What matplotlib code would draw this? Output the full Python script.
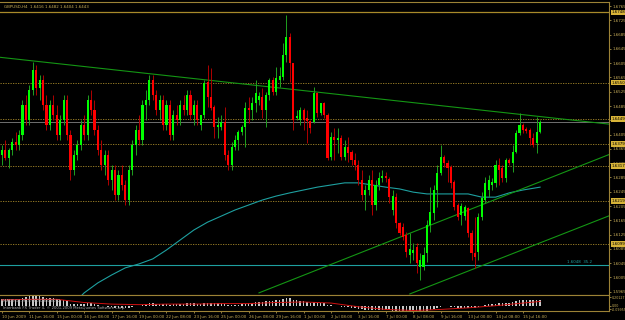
import numpy as np
import matplotlib
matplotlib.use("Agg")
import matplotlib.pyplot as plt
from matplotlib.transforms import blended_transform_factory

# ---------------- data ----------------
header = "GBPUSD,H4  1.6416 1.6482 1.6404 1.6443"

# prices in pips (x 1e-4)
open_p = [16348,16362,16340,16362,16384,16376,16404,16488,16446,16530,16586,16536,16558,16488,16432,16488,16460,16404,16446,16502,
          16404,16306,16348,16376,16432,16404,16502,16474,16418,16362,16320,16348,16278,16306,16236,16292,16264,16222,16306,16376,
          16418,16390,16488,16502,16558,16516,16474,16502,16432,16488,16404,16460,16446,16488,16474,16516,16460,16488,16432,16460,
          16552,16510,16482,16426,16426,16440,16348,16320,16370,16390,16412,16426,16480,16474,16494,16502,16510,16474,16516,16558,
          16524,16558,16566,16628,16678,16606,16452,16446,16474,16452,16443,16440,16522,16466,16494,16460,16342,16398,16390,16396,
          16342,16370,16356,16334,16320,16278,16236,16250,16278,16208,16264,16284,16289,16281,16194,16230,16158,16146,16124,16068,
          16074,16090,16034,16034,16074,16152,16186,16250,16298,16342,16326,16314,16272,16208,16180,16177,16200,16130,16074,16076,
          16174,16222,16250,16264,16270,16320,16312,16284,16334,16326,16356,16410,16432,16421,16418,16396,16382,16412]
high_p = [16376,16390,16368,16396,16412,16418,16502,16516,16544,16608,16600,16572,16572,16516,16502,16516,16488,16460,16516,16516,
          16418,16362,16390,16446,16460,16516,16530,16502,16432,16390,16362,16362,16320,16320,16306,16320,16278,16320,16390,16432,
          16460,16502,16530,16572,16572,16530,16516,16516,16502,16502,16474,16488,16502,16516,16530,16530,16502,16502,16460,16558,
          16600,16592,16488,16454,16460,16482,16362,16384,16404,16418,16432,16496,16510,16510,16558,16524,16536,16524,16564,16566,
          16594,16594,16662,16740,16690,16606,16474,16482,16480,16474,16446,16538,16524,16494,16496,16466,16412,16424,16424,16404,
          16390,16398,16362,16354,16334,16306,16264,16292,16306,16278,16300,16306,16300,16286,16250,16242,16160,16158,16132,16130,
          16102,16102,16074,16090,16166,16258,16264,16320,16376,16348,16334,16320,16278,16214,16214,16208,16202,16138,16174,16186,
          16244,16286,16292,16284,16334,16340,16320,16340,16340,16376,16418,16466,16438,16426,16424,16410,16454,16446]
low_p = [16320,16334,16312,16348,16362,16362,16390,16432,16432,16516,16516,16502,16474,16418,16418,16446,16390,16390,16432,16390,
         16278,16292,16334,16362,16390,16390,16460,16404,16348,16306,16292,16264,16250,16222,16222,16250,16208,16208,16292,16348,
         16376,16376,16446,16488,16502,16460,16446,16418,16418,16390,16390,16432,16432,16460,16460,16446,16432,16432,16418,16452,
         16482,16474,16396,16396,16418,16334,16306,16306,16362,16362,16404,16370,16438,16446,16468,16488,16452,16426,16502,16516,
         16516,16538,16558,16608,16552,16418,16446,16432,16418,16382,16410,16438,16454,16460,16452,16334,16334,16334,16354,16334,
         16334,16328,16320,16306,16264,16222,16194,16236,16180,16194,16250,16272,16272,16214,16180,16144,16124,16110,16062,16046,
         16054,16018,15998,16026,16048,16132,16166,16202,16292,16314,16272,16256,16194,16166,16152,16166,16118,16054,16032,16054,
         16166,16214,16230,16250,16258,16264,16272,16272,16320,16300,16354,16404,16410,16410,16376,16370,16354,16410]
close_p = [16362,16340,16362,16384,16376,16404,16488,16446,16530,16586,16536,16558,16488,16432,16488,16460,16404,16446,16502,16404,
           16306,16348,16376,16432,16404,16502,16474,16418,16362,16320,16348,16278,16306,16236,16292,16264,16222,16306,16376,16418,
           16390,16488,16502,16558,16516,16474,16502,16432,16488,16404,16460,16446,16488,16474,16516,16460,16488,16446,16460,16550,
           16510,16480,16426,16432,16440,16348,16320,16370,16390,16412,16426,16480,16474,16494,16522,16512,16474,16516,16558,16524,
           16564,16569,16628,16678,16606,16446,16457,16474,16446,16443,16424,16522,16466,16494,16460,16340,16398,16390,16396,16342,
           16370,16354,16334,16320,16278,16236,16250,16278,16208,16264,16284,16289,16284,16230,16233,16158,16130,16118,16076,16085,
           16082,16046,16054,16068,16152,16188,16250,16298,16342,16326,16312,16270,16202,16174,16205,16202,16130,16074,16062,16174,
           16228,16270,16278,16272,16320,16306,16284,16334,16326,16356,16410,16432,16418,16415,16396,16376,16412,16440]

# moving average (cyan), read at selected bars
ma_bar = [22,24,28,32,36,40,44,48,52,56,60,64,68,72,76,80,84,88,92,96,100,104,108,112,116,120,124,128,132,136,140,144,148,152,157]
ma_p = [15942,15962,15990,16012,16032,16043,16057,16082,16110,16138,16160,16177,16194,16208,16222,16233,16242,16250,16258,16264,
        16270,16270,16264,16258,16253,16244,16239,16239,16239,16239,16230,16230,16242,16250,16258]

# MACD histogram and signal
macd_hist = [0.12,0.13,0.13,0.12,0.12,0.13,0.15,0.16,0.18,0.20,0.19,0.19,0.17,0.15,0.15,0.14,0.12,0.10,0.10,0.08,
             0.04,0.03,0.03,0.04,0.04,0.05,0.05,0.03,0.01,-0.01,-0.01,-0.02,-0.03,-0.04,-0.04,-0.04,-0.05,-0.04,-0.02,0.00,
             0.00,0.02,0.03,0.05,0.05,0.04,0.04,0.03,0.03,0.02,0.03,0.03,0.04,0.04,0.05,0.05,0.05,0.04,0.04,0.06,
             0.06,0.06,0.05,0.05,0.05,0.03,0.02,0.02,0.02,0.02,0.03,0.04,0.05,0.06,0.07,0.07,0.07,0.08,0.09,0.09,
             0.10,0.10,0.12,0.14,0.14,0.11,0.10,0.09,0.08,0.07,0.06,0.07,0.06,0.05,0.05,0.02,0.01,0.00,-0.01,-0.02,
             -0.02,-0.03,-0.04,-0.05,-0.06,-0.07,-0.08,-0.08,-0.09,-0.09,-0.09,-0.09,-0.09,-0.09,-0.10,-0.10,-0.11,-0.11,-0.12,-0.12,
             -0.12,-0.13,-0.13,-0.12,-0.10,-0.08,-0.06,-0.04,-0.02,-0.01,-0.01,-0.02,-0.03,-0.04,-0.04,-0.04,-0.05,-0.05,-0.04,-0.02,
             0.00,0.02,0.03,0.03,0.04,0.05,0.05,0.05,0.06,0.07,0.08,0.10,0.10,0.10,0.10,0.10,0.10,0.11]
sig_bar = [0,8,16,24,32,40,48,56,64,72,80,88,96,104,112,120,128,136,144,152,157]
sig_val = [0.11,0.12,0.12,0.06,0.03,0.02,0.03,0.03,0.04,0.04,0.06,0.07,0.05,-0.02,-0.07,-0.09,-0.07,-0.04,0.00,0.05,0.08]

# horizontal levels
gold_level = 16748
dotted_levels = [16550, 16449, 16379, 16317, 16219, 16099]
bid_level = close_p[-1]
cyan_level = 16040
cyan_text = "1.6048  35.2"

# trend lines: (bar, price) anchor pairs
trend_lines = [((0, 16621), (150, 16463)),
               ((75, 15962), (157, 16273)),
               ((119, 15959), (157, 16102))]

price_ticks = [16765 - 40 * k for k in range(21)]
time_labels = ["10 Jun 2009", "11 Jun 16:00", "15 Jun 00:00", "16 Jun 08:00", "17 Jun 16:00", "19 Jun 00:00",
               "22 Jun 08:00", "23 Jun 16:00", "25 Jun 00:00", "26 Jun 08:00", "29 Jun 16:00", "1 Jul 00:00",
               "2 Jul 08:00", "3 Jul 16:00", "7 Jul 00:00", "8 Jul 08:00", "9 Jul 16:00", "13 Jul 00:00",
               "14 Jul 08:00", "15 Jul 16:00"]
macd_max, macd_min = 0.20127, -0.09955

# ---------------- drawing ----------------
W, H = 625, 320
BG = "#000000"
AX = "#9c8236"
TXT = "#c8ae5a"
FS = 2.9

o = np.array(open_p) / 1e4
h = np.array(high_p) / 1e4
l = np.array(low_p) / 1e4
c = np.array(close_p) / 1e4
n = len(o)
idx = np.arange(n)

fig = plt.figure(figsize=(W / 100, H / 100), dpi=100, facecolor=BG)

def frac(x0, y0, x1, y1):
    return [x0 / W, 1 - y1 / H, (x1 - x0) / W, (y1 - y0) / H]

px_per_bar = 3.428
x_first = 1.9
R = 609
xlim = ((0 - x_first) / px_per_bar, (R - x_first) / px_per_bar)

ax = fig.add_axes(frac(0, 2, R, 295))
ax.set_facecolor(BG)
ax.set_xlim(*xlim)
ax.set_ylim(1.6782 - 0.00028 * 295, 1.6782 - 0.00028 * 2)

up = c >= o
body_lo = np.minimum(o, c)
body_h = np.maximum(np.abs(c - o), 0.00004)
ax.vlines(idx[up], l[up], h[up], color="#1fa01f", lw=0.7, zorder=3)
ax.vlines(idx[~up], l[~up], h[~up], color="#b00000", lw=0.7, zorder=3)
ax.bar(idx[up], body_h[up], bottom=body_lo[up], width=0.62, color="#00ff00", lw=0, zorder=4)
ax.bar(idx[~up], body_h[~up], bottom=body_lo[~up], width=0.62, color="#ff0000", lw=0, zorder=4)

# moving average
ax.plot(ma_bar, np.array(ma_p) / 1e4, color="#1ea0a0", lw=0.8, zorder=2)

# levels
ax.axhline(gold_level / 1e4, color="#a88a2a", lw=0.9, zorder=1)
for lv in dotted_levels:
    ax.axhline(lv / 1e4, color="#a88a2a", lw=0.6, ls=(0, (1.5, 1.5)), zorder=1)
ax.axhline(bid_level / 1e4, color="#707070", lw=0.7, zorder=1)
ax.axhline(cyan_level / 1e4, color="#1ea0a0", lw=0.8, zorder=1)
ax.text(xlim[1] - 5, cyan_level / 1e4 + 0.0002, cyan_text, color="#1ea0a0", fontsize=FS,
        ha="right", va="bottom", zorder=5)

# trend lines (rays extended to right edge)
for (b0, p0), (b1, p1) in trend_lines:
    slope = (p1 - p0) / (b1 - b0)
    xs = np.array([xlim[0] if b0 == 0 else b0, xlim[1]])
    ys = (p0 + slope * (xs - b0)) / 1e4
    ax.plot(xs, ys, color="#149614", lw=0.8, zorder=2)

for s in ax.spines.values():
    s.set_color(AX)
    s.set_linewidth(0.8)
ax.spines["left"].set_visible(False)
ax.tick_params(axis="x", which="both", bottom=False, labelbottom=False)
ax.yaxis.tick_right()
ax.set_yticks(np.array(price_ticks) / 1e4)
ax.set_yticklabels([f"{p/1e4:.4f}" for p in price_ticks])
ax.tick_params(axis="y", colors=TXT, labelsize=FS, length=1.5, width=0.5, pad=0.8, labelcolor=TXT)

# right-side boxes for levels
tr = blended_transform_factory(ax.transAxes, ax.transData)
for lv in [gold_level] + dotted_levels:
    ax.text(1.004, lv / 1e4, f"{lv/1e4:.4f}", transform=tr, fontsize=FS, color="#000000",
            ha="left", va="center", zorder=6, clip_on=False,
            bbox=dict(boxstyle="square,pad=0.15", fc="#d8b438", ec="none"))

ax.text(4 / R, 1 - 3 / 293, header, transform=ax.transAxes, fontsize=2.9, color=TXT,
        ha="left", va="top")

# indicator pane
ax2 = fig.add_axes(frac(0, 295, R, 311))
ax2.set_facecolor(BG)
ax2.set_xlim(*xlim)
ax2.set_ylim(macd_min, macd_max)
ax2.bar(idx, macd_hist, width=0.45, color="#c8c8c8", lw=0, zorder=2)
ax2.plot(sig_bar, sig_val, color="#d01010", lw=0.7, zorder=3)
for s in ax2.spines.values():
    s.set_color(AX)
    s.set_linewidth(0.8)
ax2.spines["left"].set_visible(False)
ax2.yaxis.tick_right()
ax2.set_yticks([macd_max * 0.8, 0.0, macd_min * 0.7])
ax2.set_yticklabels([f"{macd_max:.5f}", "0.00", f"{macd_min:.5f}"])
ax2.tick_params(axis="y", colors=TXT, labelsize=2.3, length=1.5, width=0.5, pad=0.8, labelcolor=TXT)
ax2.set_xticks(np.arange(0, 8 * len(time_labels), 8))
ax2.set_xticklabels(time_labels, ha="left")
ax2.tick_params(axis="x", colors=TXT, labelsize=FS, length=1.5, width=0.5, pad=1.2, labelcolor=TXT)
ax2.text(3 / R, 0.62, "MACD(12,26,9) 0.0028 0.0022", transform=ax2.transAxes, fontsize=2.7,
         color="#b0b0b0", ha="left", va="center", zorder=4)

fig.text(3 / W, 1 - 308.5 / H, "Interbank FX Trader 4, \u00a9 2001-2009 MetaQuotes Software Corp.",
         fontsize=2.7, color="#b0b0b0", ha="left", va="center")

fig.savefig("out.png", dpi=100, facecolor=BG)
